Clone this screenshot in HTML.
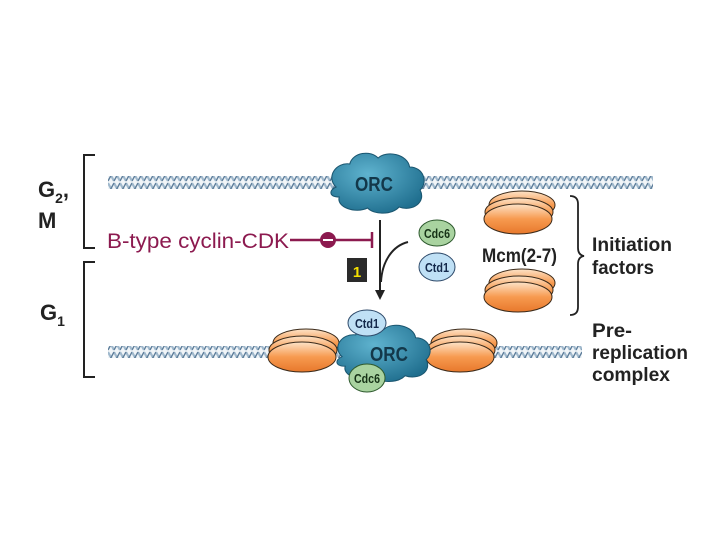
<!DOCTYPE html>
<html><head><meta charset="utf-8"><style>
html,body{margin:0;padding:0;background:#fff;width:720px;height:540px;overflow:hidden}
svg{display:block}
text{font-family:"Liberation Sans",sans-serif}
</style></head><body>
<svg width="720" height="540" viewBox="0 0 720 540" xmlns="http://www.w3.org/2000/svg">
<defs>
<pattern id="dna" width="12" height="13" patternUnits="userSpaceOnUse">
<rect width="12" height="13" fill="#f1f5f8"/>
<path d="M0 1 L6 12 M6 1 L12 12" stroke="#9fb8cc" stroke-width="2.2"/>
<path d="M0 12 L6 1 M6 12 L12 1" stroke="#5f7f9c" stroke-width="1.4"/>
</pattern>
<radialGradient id="orc" cx="0.4" cy="0.35" r="0.7">
<stop offset="0" stop-color="#5fb3cf"/><stop offset="1" stop-color="#1f6e8e"/>
</radialGradient>
<linearGradient id="disk" x1="0" y1="0" x2="0" y2="1">
<stop offset="0" stop-color="#fde3c8"/><stop offset="0.5" stop-color="#f79a4f"/><stop offset="1" stop-color="#e8782c"/>
</linearGradient>
<g id="stack">
<ellipse cx="3" cy="-7" rx="33" ry="14" fill="url(#disk)" stroke="#3a2a1a" stroke-width="1"/>
<ellipse cx="0" cy="0" rx="34" ry="14" fill="url(#disk)" stroke="#3a2a1a" stroke-width="1"/>
<ellipse cx="-1" cy="7" rx="34" ry="15" fill="url(#disk)" stroke="#3a2a1a" stroke-width="1"/>
</g>
<g id="cloud">
<path d="M-38 5 C-48 -5 -38 -20 -25 -18 C-22 -30 -5 -32 2 -24 C10 -32 30 -28 32 -15 C45 -15 50 0 42 8 C48 20 35 30 22 25 C15 33 -2 33 -8 26 C-20 32 -38 25 -35 15 C-45 15 -45 8 -38 5 Z" fill="url(#orc)" stroke="#1a5670" stroke-width="1"/>
</g>
</defs>

<path d="M95 155 H84 V248 H95" fill="none" stroke="#222" stroke-width="2"/>
<path d="M95 262 H84 V377 H95" fill="none" stroke="#222" stroke-width="2"/>
<text x="38" y="197" font-size="22" font-weight="bold" fill="#222">G<tspan font-size="14" dy="6">2</tspan><tspan dy="-6">,</tspan></text>
<text x="38" y="228" font-size="22" font-weight="bold" fill="#222">M</text>
<text x="40" y="320" font-size="22" font-weight="bold" fill="#222">G<tspan font-size="14" dy="6">1</tspan></text>

<rect x="108" y="176" width="545" height="13" fill="url(#dna)"/>
<use href="#cloud" transform="translate(376,182) scale(1.05,1)"/>
<text x="355" y="191" font-size="20" font-weight="bold" fill="#13384a" textLength="38" lengthAdjust="spacingAndGlyphs">ORC</text>

<text x="107" y="248" font-size="21" fill="#8c1a4f" textLength="182" lengthAdjust="spacingAndGlyphs">B-type cyclin-CDK</text>
<line x1="290" y1="240" x2="372" y2="240" stroke="#8c1a4f" stroke-width="2.5"/>
<circle cx="328" cy="240" r="8" fill="#8c1a4f"/>
<line x1="323" y1="240" x2="333" y2="240" stroke="#fff" stroke-width="2"/>
<line x1="372" y1="232" x2="372" y2="248" stroke="#8c1a4f" stroke-width="2.5"/>

<line x1="380" y1="220" x2="380" y2="292" stroke="#222" stroke-width="2"/>
<path d="M375 290 L380 300 L385 290 Z" fill="#222"/>
<path d="M381 282 C382 262 392 246 408 242" fill="none" stroke="#222" stroke-width="2"/>
<rect x="347" y="258" width="20" height="24" fill="#2a2a2a"/>
<text x="357" y="277" font-size="15" font-weight="bold" fill="#f5e000" text-anchor="middle">1</text>

<ellipse cx="437" cy="233" rx="18" ry="13" fill="#a9d3a0" stroke="#2e5a2e" stroke-width="1"/>
<text x="424" y="238" font-size="13" font-weight="bold" fill="#163216" textLength="26" lengthAdjust="spacingAndGlyphs">Cdc6</text>
<ellipse cx="437" cy="267" rx="18" ry="14" fill="#bfe0f5" stroke="#2e4a6a" stroke-width="1"/>
<text x="425" y="272" font-size="13" font-weight="bold" fill="#13284a" textLength="24" lengthAdjust="spacingAndGlyphs">Ctd1</text>

<use href="#stack" transform="translate(519,212)"/>
<use href="#stack" transform="translate(519,290)"/>
<text x="482" y="262" font-size="19" font-weight="bold" fill="#222" textLength="75" lengthAdjust="spacingAndGlyphs">Mcm(2-7)</text>
<path d="M570 196 Q578 196 578 204 V248 Q578 255 584 256 Q578 257 578 264 V307 Q578 315 570 315" fill="none" stroke="#222" stroke-width="1.8"/>
<text x="592" y="251" font-size="19" font-weight="bold" fill="#222" textLength="80" lengthAdjust="spacingAndGlyphs">Initiation</text>
<text x="592" y="274" font-size="19" font-weight="bold" fill="#222" textLength="62" lengthAdjust="spacingAndGlyphs">factors</text>

<rect x="108" y="346" width="474" height="12" fill="url(#dna)"/>
<use href="#stack" transform="translate(303,350)"/>
<use href="#stack" transform="translate(461,350)"/>
<use href="#cloud" transform="translate(382,352) scale(1.05,0.95)"/>
<text x="370" y="361" font-size="20" font-weight="bold" fill="#13384a" textLength="38" lengthAdjust="spacingAndGlyphs">ORC</text>
<ellipse cx="367" cy="323" rx="19" ry="13" fill="#bfe0f5" stroke="#2e4a6a" stroke-width="1"/>
<text x="355" y="328" font-size="13" font-weight="bold" fill="#13284a" textLength="24" lengthAdjust="spacingAndGlyphs">Ctd1</text>
<ellipse cx="367" cy="378" rx="18" ry="14" fill="#a9d3a0" stroke="#2e5a2e" stroke-width="1"/>
<text x="354" y="383" font-size="13" font-weight="bold" fill="#163216" textLength="26" lengthAdjust="spacingAndGlyphs">Cdc6</text>

<text x="592" y="337" font-size="19" font-weight="bold" fill="#222" textLength="40" lengthAdjust="spacingAndGlyphs">Pre-</text>
<text x="592" y="359" font-size="19" font-weight="bold" fill="#222" textLength="96" lengthAdjust="spacingAndGlyphs">replication</text>
<text x="592" y="381" font-size="19" font-weight="bold" fill="#222" textLength="78" lengthAdjust="spacingAndGlyphs">complex</text>
</svg>
</body></html>
